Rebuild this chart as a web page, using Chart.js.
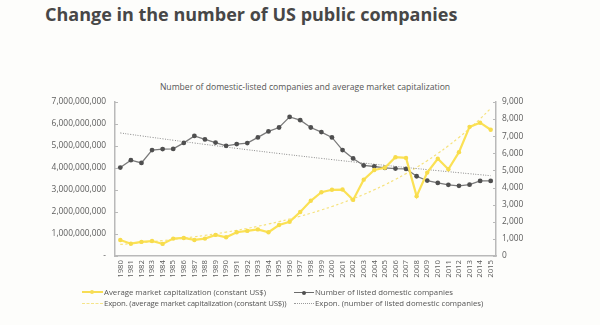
<!DOCTYPE html>
<html>
<head>
<meta charset="utf-8">
<script src="https://cdn.jsdelivr.net/npm/chart.js@4/dist/chart.umd.min.js"></script>
<style>
  html, body { margin: 0; padding: 0; background: #fdfdfb; }
  #wrap { position: relative; width: 600px; height: 325px; overflow: hidden; font-family: "Open Sans", "Liberation Sans", sans-serif; }
  #title { position: absolute; left: 45px; top: 2px; font-size: 18px; font-weight: bold; color: #474747; white-space: nowrap; }
  #subtitle { position: absolute; left: 0; width: 610px; top: 81px; text-align: center; font-size: 8.6px; color: #555; white-space: nowrap; }
  #chart { position: absolute; left: 0; top: 0; }
  .lg { position: absolute; font-size: 7.8px; color: #555; white-space: nowrap; height: 11px; line-height: 11px; }
  .lg.tight { letter-spacing: -0.2px; }
  .sym { position: absolute; top: 5px; height: 0; }
  .dot { position: absolute; width: 4px; height: 4px; border-radius: 50%; top: -2px; }
</style>
</head>
<body>
<div id="wrap">
  <div id="title">Change in the number of US public companies</div>
  <div id="subtitle">Number of domestic-listed companies and average market capitalization</div>
  <canvas id="chart" width="600" height="325"></canvas>
  <div class="lg" style="left:82px; top:287px;"><span class="sym" style="left:0; width:21px; border-top:2px solid #f7dd55; top:4px;"><span class="dot" style="left:8px; background:#f7dd55; top:-3px;"></span></span><span style="margin-left:22px;">Average market capitalization (constant US$)</span></div>
  <div class="lg" style="left:294px; top:287px;"><span class="sym" style="left:0; width:20px; border-top:1.5px solid #6b6b6b;"><span class="dot" style="left:8px; background:#4f4f4f; top:-2.5px;"></span></span><span style="margin-left:21px;">Number of listed domestic companies</span></div>
  <div class="lg tight" style="left:82px; top:298px;"><span class="sym" style="left:0; width:21px; border-top:1px dashed #f5e48a;"></span><span style="margin-left:22px;">Expon. (average market capitalization (constant US$))</span></div>
  <div class="lg" style="left:294px; top:298px;"><span class="sym" style="left:0; width:20px; border-top:1px dotted #9a9a9a;"></span><span style="margin-left:21px;">Expon. (number of listed domestic companies)</span></div>
</div>
<script>
// Years on the category axis
const years = [
  "1980","1981","1982","1983","1984","1985","1986","1987","1988","1989",
  "1990","1991","1992","1993","1994","1995","1996","1997","1998","1999",
  "2000","2001","2002","2003","2004","2005","2006","2007","2008","2009",
  "2010","2011","2012","2013","2014","2015"
];

// Average market capitalization per company, constant US$ (left axis)
const avgMarketCap = [
  730000000, 560000000, 640000000, 680000000, 550000000, 790000000, 820000000, 730000000, 790000000, 960000000,
  850000000, 1080000000, 1140000000, 1210000000, 1080000000, 1410000000, 1560000000, 2000000000, 2510000000, 2900000000,
  3010000000, 3020000000, 2550000000, 3470000000, 3910000000, 4010000000, 4490000000, 4460000000, 2720000000, 3790000000,
  4420000000, 3940000000, 4720000000, 5870000000, 6060000000, 5740000000
];

// Number of listed domestic companies (right axis)
const listedCompanies = [
  5170, 5600, 5440, 6190, 6250, 6260, 6610, 7020, 6810, 6630,
  6440, 6540, 6600, 6930, 7280, 7510, 8130, 7940, 7510, 7240,
  6930, 6190, 5700, 5290, 5230, 5150, 5110, 5090, 4660, 4410,
  4270, 4160, 4100, 4170, 4390, 4390
];

// Left axis tick values and right axis tick values
const leftTicks = [0, 1000000000, 2000000000, 3000000000, 4000000000, 5000000000, 6000000000, 7000000000];
const rightTicks = [0, 1000, 2000, 3000, 4000, 5000, 6000, 7000, 8000, 9000];

// Least-squares exponential trend (y = a * e^(b*x)), fitted on ln(y)
function expTrend(values) {
  const n = values.length;
  let sx = 0, sy = 0, sxx = 0, sxy = 0;
  values.forEach((v, i) => {
    const x = i + 1, y = Math.log(v);
    sx += x; sy += y; sxx += x * x; sxy += x * y;
  });
  const b = (n * sxy - sx * sy) / (n * sxx - sx * sx);
  const a = Math.exp((sy - b * sx) / n);
  return values.map((_, i) => a * Math.exp(b * (i + 1)));
}

const axisGrey = '#b9b9b9';
const labelGrey = '#5c5c5c';
const fontFamily = '"Open Sans", "Liberation Sans", sans-serif';

// Short tick marks drawn inside the plot area on both value axes
const innerTicks = {
  id: 'innerTicks',
  afterDraw(chart) {
    const ctx = chart.ctx;
    const left = chart.scales.y, right = chart.scales.y1;
    ctx.save();
    ctx.strokeStyle = axisGrey;
    ctx.lineWidth = 1;
    ctx.beginPath();
    left.ticks.forEach(t => {
      const y = Math.round(left.getPixelForValue(t.value)) + 0.5;
      ctx.moveTo(left.right, y); ctx.lineTo(left.right + 3, y);
    });
    right.ticks.forEach(t => {
      const y = Math.round(right.getPixelForValue(t.value)) + 0.5;
      ctx.moveTo(right.left, y); ctx.lineTo(right.left - 3, y);
    });
    ctx.stroke();
    ctx.restore();
  }
};

new Chart(document.getElementById('chart'), {
  type: 'line',
  data: {
    labels: years,
    datasets: [
      {
        label: 'Number of listed domestic companies',
        data: listedCompanies,
        yAxisID: 'y1',
        borderColor: '#7a7a7a',
        backgroundColor: '#4f4f4f',
        borderWidth: 1.3,
        pointRadius: 2.4,
        pointBorderWidth: 0,
        pointBackgroundColor: '#4f4f4f',
        tension: 0,
        order: 2
      },
      {
        label: 'Average market capitalization (constant US$)',
        data: avgMarketCap,
        yAxisID: 'y',
        borderColor: '#fbe155',
        backgroundColor: '#fbe155',
        borderWidth: 2.2,
        pointRadius: 2.2,
        pointBorderWidth: 0,
        pointBackgroundColor: '#f7dc4c',
        tension: 0,
        order: 1
      },
      {
        label: 'Expon. (average market capitalization (constant US$))',
        data: expTrend(avgMarketCap),
        yAxisID: 'y',
        borderColor: '#f6e27c',
        borderWidth: 1.2,
        borderDash: [2.5, 2.5],
        pointRadius: 0,
        tension: 0.4,
        order: 4
      },
      {
        label: 'Expon. (number of listed domestic companies)',
        data: expTrend(listedCompanies),
        yAxisID: 'y1',
        borderColor: '#8a8a8a',
        borderWidth: 1,
        borderDash: [1, 1.5],
        pointRadius: 0,
        tension: 0.4,
        order: 3
      }
    ]
  },
  options: {
    responsive: false,
    animation: false,
    layout: { padding: { top: 102, right: 0, bottom: 0, left: 0 } },
    plugins: {
      legend: { display: false },
      title: { display: false },
      tooltip: { enabled: false }
    },
    scales: {
      x: {
        offset: true,
        grid: { display: false, drawTicks: false },
        border: { display: true, color: axisGrey, width: 1.5 },
        ticks: {
          autoSkip: false,
          minRotation: 90,
          maxRotation: 90,
          padding: 4,
          color: labelGrey,
          font: { family: fontFamily, size: 7.8 }
        },
        afterFit(scale) { scale.height = 69; }
      },
      y: {
        position: 'left',
        min: 0,
        max: 7000000000,
        afterBuildTicks(scale) { scale.ticks = leftTicks.map(v => ({ value: v })); },
        grid: { display: false, drawTicks: false },
        border: { display: true, color: axisGrey, width: 1.5 },
        ticks: {
          padding: 9,
          color: labelGrey,
          font: { family: fontFamily, size: 8.4 },
          callback: v => v === 0 ? '-' : v.toLocaleString('en-US')
        },
        afterFit(scale) { scale.width = 115; }
      },
      y1: {
        position: 'right',
        min: 0,
        max: 9000,
        afterBuildTicks(scale) { scale.ticks = rightTicks.map(v => ({ value: v })); },
        grid: { display: false, drawTicks: false },
        border: { display: true, color: axisGrey, width: 1.5 },
        ticks: {
          padding: 6,
          color: labelGrey,
          font: { family: fontFamily, size: 8.4 },
          callback: v => v.toLocaleString('en-US')
        },
        afterFit(scale) { scale.width = 104; }
      }
    }
  },
  plugins: [innerTicks]
});
</script>
</body>
</html>
